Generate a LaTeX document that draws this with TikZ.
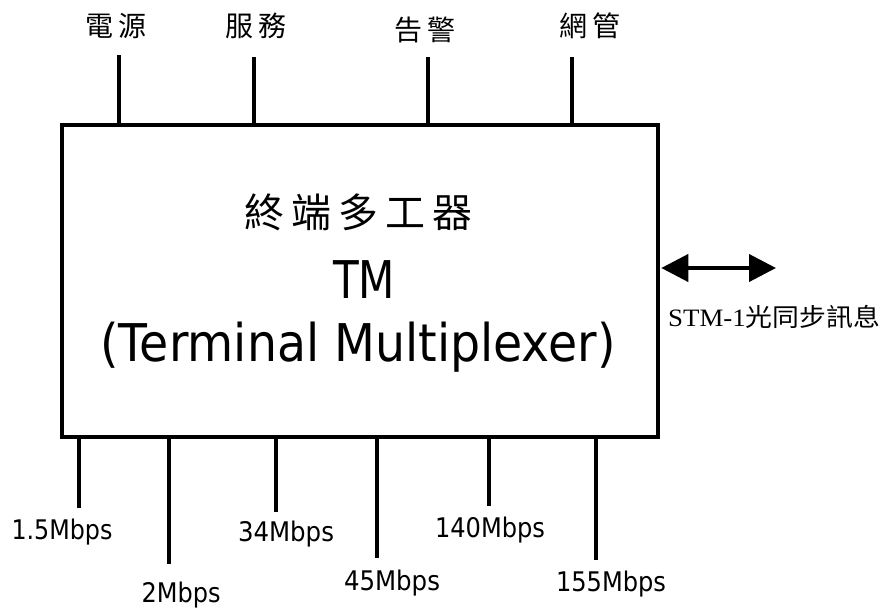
\documentclass[tikz,border=0pt]{standalone}
\usepackage{fontspec}
\usepackage{graphicx}
\setmainfont{Liberation Serif}
\newfontfamily\cjk{Noto Sans CJK TC}
\newfontfamily\comic{DejaVu Sans}
\usetikzlibrary{arrows.meta}
\newcommand{\wfit}[2]{\resizebox{#1}{\height}{#2}}
\begin{document}
\begin{tikzpicture}[x=1pt,y=-1pt,
  conn/.style={line width=4pt},
  toplab/.style={font=\cjk\fontsize{28}{28}\selectfont, inner sep=0pt},
  botlab/.style={font=\comic\fontsize{27}{27}\selectfont, inner sep=0pt},
  bigtxt/.style={font=\comic\fontsize{52}{52}\selectfont, inner sep=0pt},
  mainbox/.style={draw, line width=4.5pt, minimum width=596pt, minimum height=312pt, inner sep=0pt}]
\useasboundingbox (0,0) rectangle (888,608);
\fill[white] (0,0) rectangle (888,608);
\node[mainbox] (tm) at (360,281) {};
% inner text
\node[font=\cjk\fontsize{40}{40}\selectfont, inner sep=0pt] (t1) at (358,212) {終\hspace{7pt}端\hspace{7pt}多\hspace{7pt}工\hspace{7pt}器};
\node[bigtxt] (t2) at (364,280) {\wfit{62pt}{TM}};
\node[bigtxt] (t3) at (358,347) {\wfit{515pt}{(Terminal Multiplexer)}};
% top labels and lines
\node[toplab] (l1) at (116,26) {電\hspace{5pt}源};
\node[toplab] (l2) at (256,26) {服\hspace{5pt}務};
\node[toplab] (l3) at (425,30) {告\hspace{5pt}警};
\node[toplab] (l4) at (590,26) {網\hspace{5pt}管};
\coordinate (e1) at (119,55);
\coordinate (e2) at (254,57);
\coordinate (e3) at (428,57);
\coordinate (e4) at (572,57);
\foreach \i in {1,2,3,4} \draw[conn] (tm.north -| e\i) -- (e\i);
% bottom lines and labels
\coordinate (b1) at (79,508);
\coordinate (b2) at (169,564);
\coordinate (b3) at (276,512);
\coordinate (b4) at (377,558);
\coordinate (b5) at (489,506);
\coordinate (b6) at (596,560);
\foreach \i in {1,...,6} \draw[conn] (tm.south -| b\i) -- (b\i);
\node[botlab] (m1) at (62,532) {\wfit{101pt}{1.5Mbps}};
\node[botlab] (m2) at (181,595) {\wfit{79pt}{2Mbps}};
\node[botlab] (m3) at (286,534) {\wfit{96pt}{34Mbps}};
\node[botlab] (m4) at (392,583) {\wfit{96pt}{45Mbps}};
\node[botlab] (m5) at (490,530) {\wfit{110pt}{140Mbps}};
\node[botlab] (m6) at (611,584) {\wfit{110pt}{155Mbps}};
% arrow
\coordinate (ar) at (776,268);
\draw[line width=4pt, {Triangle[length=27pt,width=27pt]}-{Triangle[length=27pt,width=27pt]}, shorten <=1pt] (tm.east |- ar) -- (ar);
\node[anchor=west, inner sep=0pt, font=\fontsize{25}{25}\selectfont] (stm) at (668,317) {\wfit{212pt}{STM-1{\cjk 光同步訊息}}};
\end{tikzpicture}
\end{document}
